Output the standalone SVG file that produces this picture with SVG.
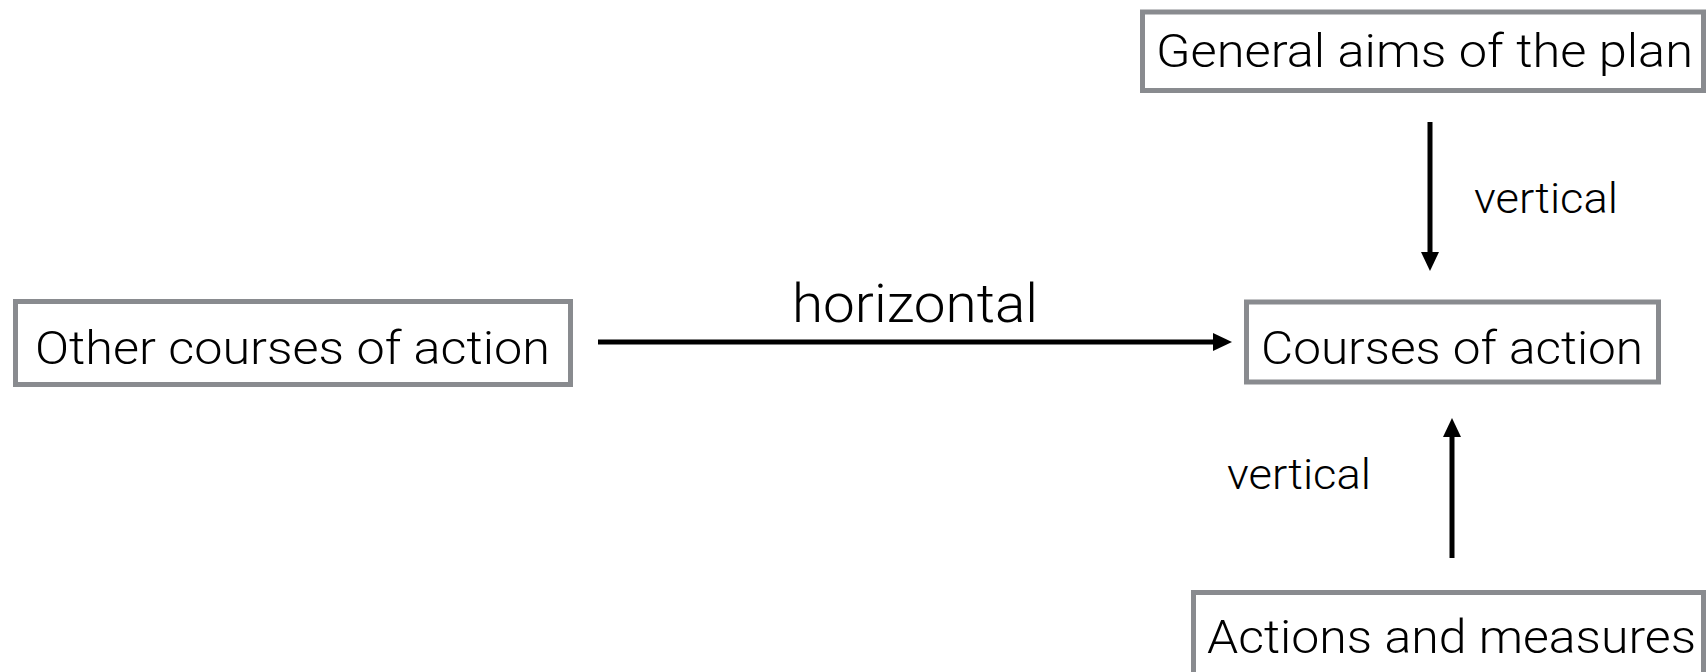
<svg xmlns="http://www.w3.org/2000/svg" width="1706" height="672" viewBox="0 0 1706 672">
<style>
.box{fill:#ffffff;stroke:#898b8f;stroke-width:5}
.lbl{font-family:"Helvetica Neue","Roboto","Liberation Sans",sans-serif;font-weight:300;fill:#000000}
.big{font-size:47px}
.conn{stroke:#000000;stroke-width:5;fill:none}
.elbl{font-size:42px}
.hlbl{font-size:54px}
</style>
<defs>
<marker id="ah" markerWidth="19" markerHeight="18" refX="0" refY="9" orient="auto" markerUnits="userSpaceOnUse">
<path d="M0,0 L19,9 L0,18 z" fill="#000000"/>
</marker>
</defs>
<rect width="1706" height="672" fill="#ffffff"/>
<g id="node-general">
<rect class="box" x="1142.5" y="12" width="561" height="78.5"/>
<text class="lbl big" x="1156" y="67" textLength="537" lengthAdjust="spacingAndGlyphs">General aims of the plan</text>
</g>
<g id="node-other">
<rect class="box" x="15.5" y="301.5" width="555" height="83"/>
<text class="lbl big" x="35" y="364" textLength="515" lengthAdjust="spacingAndGlyphs">Other courses of action</text>
</g>
<g id="node-courses">
<rect class="box" x="1246.5" y="302" width="412" height="80"/>
<text class="lbl big" x="1261" y="364" textLength="382" lengthAdjust="spacingAndGlyphs">Courses of action</text>
</g>
<g id="node-actions">
<rect class="box" x="1193.5" y="592.5" width="510" height="100"/>
<text class="lbl big" x="1207" y="653" textLength="489" lengthAdjust="spacingAndGlyphs">Actions and measures</text>
</g>
<g id="connectors">
<line class="conn" x1="598" y1="342" x2="1213" y2="342" marker-end="url(#ah)"/>
<text class="lbl hlbl" x="792" y="322" textLength="246" lengthAdjust="spacingAndGlyphs">horizontal</text>
<line class="conn" x1="1430" y1="122" x2="1430" y2="252" marker-end="url(#ah)"/>
<text class="lbl elbl" x="1474" y="213" textLength="144" lengthAdjust="spacingAndGlyphs">vertical</text>
<line class="conn" x1="1452" y1="558" x2="1452" y2="437" marker-end="url(#ah)"/>
<text class="lbl elbl" x="1227" y="489" textLength="144" lengthAdjust="spacingAndGlyphs">vertical</text>
</g>
</svg>
